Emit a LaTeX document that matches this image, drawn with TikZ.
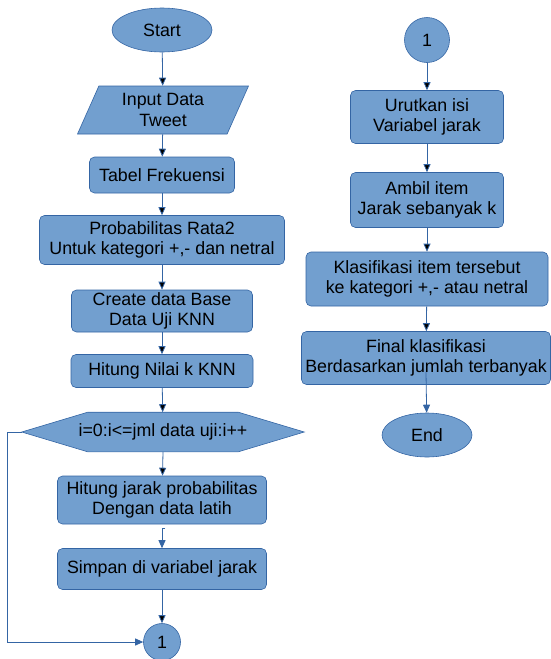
\documentclass[tikz,border=0pt]{standalone}
\usepackage{fontspec}
\setmainfont{Liberation Sans}
\usepackage{xcolor}
\usetikzlibrary{arrows.meta, shapes.geometric, calc, positioning}
\definecolor{boxfill}{HTML}{729FCF}
\definecolor{boxline}{HTML}{3465A4}
\tikzset{
    flow/.style={fill=boxfill, draw=boxline, line width=0.6pt, inner sep=0pt, align=center,
        font=\fontsize{17.8}{20.5}\selectfont},
    process/.style={flow, rectangle, rounded corners=5pt},
    terminal/.style={flow, ellipse},
    inout/.style={flow, trapezium, trapezium left angle=57, trapezium right angle=123,
        trapezium stretches body},
    connector/.style={flow, circle},
    line/.style={draw=boxline, line width=0.8pt},
    >={Triangle[length=8pt, width=7pt]}
}

\begin{document}
\begin{tikzpicture}[x=1pt, y=-1pt]
                        \useasboundingbox (0, 0) rectangle (550, 659);

                        % left column
                        \node[terminal, minimum width=100pt, minimum height=44pt] (start) at (162, 30) {Start};
                        \node[inout, minimum width=171pt, minimum height=48pt] (input) at (163, 110) {Input Data\\Tweet};
                        \node[process, minimum width=145pt, minimum height=36pt] (tabel) at (162, 175) {Tabel Frekuensi};
                        \node[process, minimum width=245pt, minimum height=49pt] (prob) at (162, 240) {Probabilitas Rata2\\Untuk kategori +,- dan netral};
                        \node[process, minimum width=181pt, minimum height=42pt] (create) at (162, 311) {Create data Base\\Data Uji KNN};
                        \node[process, minimum width=182pt, minimum height=33pt] (nilai) at (162, 371) {Hitung Nilai k KNN};
                        \node[flow, draw=none, fill=none, minimum width=150pt, minimum height=39pt] (loop) at (163, 432) {};
                        \coordinate (looptip) at ($(loop.west) + (-66, 0)$);
                        \fill[boxfill, draw=boxline, line width=0.6pt]
                        (looptip) -- (loop.north west) -- (loop.north east) -- ($(loop.east) + (66, 0)$)
                        -- (loop.south east) -- (loop.south west) -- cycle;
                        \node[flow, draw=none, fill=none] at (loop) {i=0:i<=jml data uji:i++};
                        \node[process, minimum width=209pt, minimum height=48pt] (jarak) at (162, 500) {Hitung jarak probabilitas\\Dengan data latih};
                        \node[process, minimum width=209pt, minimum height=41pt] (simpan) at (162, 569) {Simpan di variabel jarak};
                        \node[connector, minimum size=37pt] (off) at (162, 642) {1};

                        % right column
                        \node[connector, minimum size=45pt] (on) at (427, 40) {1};
                        \node[process, minimum width=153pt, minimum height=53pt] (urut) at (427, 117) {Urutkan isi\\Variabel jarak};
                        \node[process, minimum width=153pt, minimum height=55pt] (ambil) at (427, 200) {Ambil item\\Jarak sebanyak k};
                        \node[process, minimum width=242pt, minimum height=54pt] (klas) at (427, 279) {Klasifikasi item tersebut\\ke kategori +,- atau netral};
                        \node[process, minimum width=249pt, minimum height=53pt] (final) at (426, 358) {Final klasifikasi\\Berdasarkan jumlah terbanyak};
                        \node[terminal, minimum width=90pt, minimum height=44pt] (end) at (427, 435) {End};

                        \draw[line]
                        (start) edge[->] (input)
                        (input) edge[->] (tabel)
                        (tabel) edge[->] (prob)
                        (prob) edge[->] (create)
                        (create) edge[->] (nilai)
                        (nilai) edge[->] (loop)
                        (loop.south) edge[->] (jarak)
                        (simpan) edge[->] (off)
                        (on) edge[->] (urut)
                        (urut) edge[->] (ambil)
                        (ambil) edge[->] (klas)
                        (klas) edge[->] (final);
                        \draw[line, ->] ([xshift=3pt, yshift=-4pt]jarak.south) -| (simpan);
                        \draw[line, ->] (looptip) -- ++(-14, 0) |- (off);
                        \draw[line, ->] ([yshift=-14pt]final.center) -- (end);
                    \end{tikzpicture}
\end{document}
